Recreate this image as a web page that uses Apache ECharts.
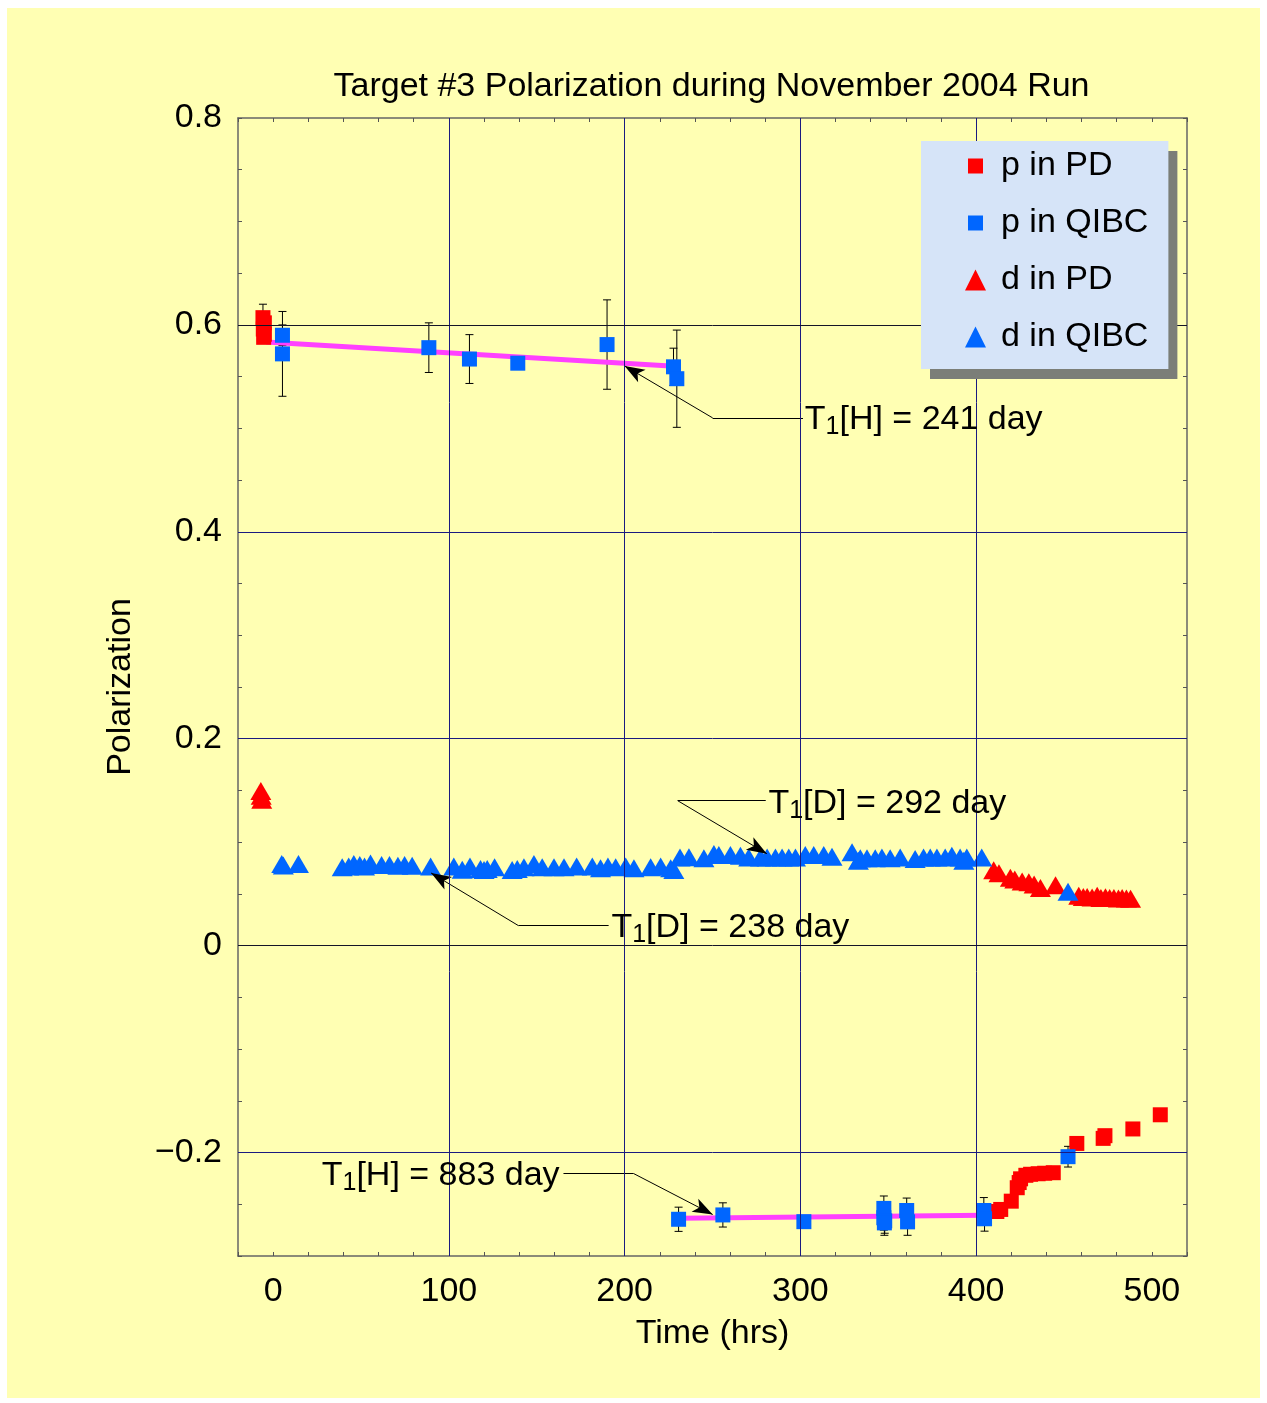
<!DOCTYPE html>
<html><head><meta charset="utf-8">
<script src="https://cdn.jsdelivr.net/npm/echarts@6/dist/echarts.min.js"></script>
<style>html,body{margin:0;padding:0;background:#fff;width:1267px;height:1403px;overflow:hidden}#c{position:absolute;left:7px;top:8px;width:1253px;height:1390px}</style>
</head><body><div id="c"></div>
<script>
// ---- data ----
const xTickValues = [0, 100, 200, 300, 400, 500];
const yTickValues = [-0.2, 0, 0.2, 0.4, 0.6, 0.8];
const yTickLabels = ['\u22120.2', '0', '0.2', '0.4', '0.6', '0.8'];
const xGridLines = [100, 200, 300, 400];
const yGridLinesNavy = [0.4, 0.2, -0.2];
const yGridLinesDark = [0.6, 0];

// [time (hrs), polarization, error]
const pInPD = [
  [-5.8, 0.607, 0.013], [-5.0, 0.602, 0], [-5.6, 0.596, 0], [-5.0, 0.591, 0], [-5.4, 0.588, 0],
  [411.8, -0.257, 0], [414, -0.255, 0], [420, -0.247, 0], [423.4, -0.234, 0], [424.5, -0.229, 0],
  [425.3, -0.2254, 0], [428.3, -0.222, 0], [431, -0.221, 0], [435.3, -0.2205, 0], [439, -0.220, 0],
  [443.9, -0.2195, 0], [457.3, -0.1912, 0], [472.3, -0.1863, 0], [473.3, -0.1837, 0],
  [489.2, -0.1772, 0], [504.8, -0.1635, 0]
];
const pInQIBC = [
  [5.3, 0.590, 0.010], [5.3, 0.572, 0.041], [88.6, 0.578, 0.024], [111.7, 0.567, 0.0236],
  [139.2, 0.563, 0], [190, 0.581, 0.0432], [227.8, 0.5595, 0.018], [229.7, 0.548, 0.047],
  [230.7, -0.2645, 0.0117], [255.9, -0.2603, 0.0117], [302, -0.2668, 0],
  [347.5, -0.254, 0.012], [347.5, -0.263, 0.012], [348, -0.266, 0.012], [347.8, -0.268, 0.012],
  [360.5, -0.256, 0.012], [361, -0.267, 0.013], [404.4, -0.256, 0.0125], [404.8, -0.264, 0.012],
  [452.3, -0.204, 0.01]
];
const dInPD = [
  [-7, 0.1495, 0], [-6.8, 0.145, 0], [-6.5, 0.141, 0],
  [410, 0.0728, 0], [413, 0.070, 0], [419.5, 0.0657, 0], [422, 0.064, 0], [426.2, 0.0621, 0],
  [430, 0.0612, 0], [433, 0.059, 0], [436.6, 0.0557, 0], [445.2, 0.0583, 0], [458.4, 0.0483, 0],
  [461, 0.047, 0], [463.2, 0.047, 0], [466, 0.0465, 0], [468.9, 0.0483, 0], [471, 0.046, 0],
  [473.6, 0.0467, 0], [476, 0.046, 0], [478.4, 0.046, 0], [481, 0.0455, 0], [483.1, 0.046, 0],
  [485.5, 0.0455, 0], [487.9, 0.0454, 0]
];
const dInQIBC = [
  [4.9, 0.079, 0], [5.8, 0.0775, 0], [14.4, 0.079, 0],
  [39.3, 0.0757, 0], [43, 0.0765, 0], [45.9, 0.0789, 0], [49.3, 0.0779, 0], [52, 0.0766, 0],
  [55.4, 0.0795, 0], [61.7, 0.0779, 0], [66.2, 0.0779, 0], [71, 0.0773, 0], [74.8, 0.0779, 0],
  [79.1, 0.0773, 0], [89.6, 0.0766, 0],
  [102.8, 0.0766, 0], [107.6, 0.0734, 0], [112, 0.0766, 0], [118, 0.0741, 0], [120, 0.073, 0],
  [121.8, 0.0741, 0], [126, 0.0757, 0],
  [136, 0.073, 0], [138.9, 0.0741, 0], [142.7, 0.0757, 0], [148.4, 0.0789, 0], [153.1, 0.0757, 0],
  [159.8, 0.0757, 0], [165.5, 0.0757, 0], [172.7, 0.0766, 0], [181.6, 0.0766, 0], [186.3, 0.0747, 0],
  [190.5, 0.0766, 0], [194.9, 0.0757, 0], [200.6, 0.0766, 0], [205.3, 0.0747, 0], [214.8, 0.0757, 0],
  [220.5, 0.0766, 0], [226.2, 0.0747, 0], [228, 0.073, 0],
  [231.5, 0.0853, 0], [236.6, 0.0855, 0], [245.1, 0.0844, 0], [250.8, 0.0886, 0], [253.6, 0.0876, 0],
  [260.2, 0.0876, 0], [265.9, 0.087, 0], [270.6, 0.0853, 0], [277.3, 0.0853, 0], [281.1, 0.0853, 0],
  [285.8, 0.0853, 0], [289.6, 0.0853, 0], [293.4, 0.0853, 0], [297.2, 0.0853, 0], [302.8, 0.0876, 0],
  [307.6, 0.0876, 0], [313.3, 0.0876, 0], [318, 0.086, 0], [329.4, 0.0902, 0], [333, 0.082, 0],
  [334.1, 0.0844, 0], [337.9, 0.0844, 0], [342.6, 0.0844, 0], [346.4, 0.0853, 0], [351.1, 0.0844, 0],
  [356.8, 0.0853, 0], [365.3, 0.0837, 0], [370.1, 0.0853, 0], [373.9, 0.0853, 0], [377.7, 0.0853, 0],
  [382.4, 0.0853, 0], [386.2, 0.087, 0], [390.9, 0.0853, 0], [393, 0.082, 0], [394.7, 0.0853, 0],
  [403.2, 0.0853, 0],
  [452.3, 0.052, 0]
];
// T1 fit lines
const fitH1 = [[-4, 0.5835], [226, 0.5603]];
const fitH2 = [[231, -0.2635], [405, -0.2605]];

// annotations: label anchor, elbow, horizontal end, arrow tip
const noteTexts = [
  { nuc: 'H', val: '241', side: 'right', anchor: [302.5, 0.5085], elbow: [250.1, 0.5101], hEnd: [301.5, 0.5101], tip: [200.0, 0.5604] },
  { nuc: 'D', val: '292', side: 'right', anchor: [281.8, 0.1375], elbow: [230.2, 0.1401], hEnd: [280.3, 0.1401], tip: [280.9, 0.0889] },
  { nuc: 'D', val: '238', side: 'right', anchor: [192.5, 0.0177], elbow: [139.6, 0.0193], hEnd: [190.9, 0.0193], tip: [89.9, 0.0702] },
  { nuc: 'H', val: '883', side: 'left',  anchor: [163.0, -0.2219], elbow: [205.1, -0.2203], hEnd: [165.2, -0.2203], tip: [250.1, -0.2599] }
];

// ---- chart ----
const FONT = 'Liberation Sans, Arial, Helvetica, sans-serif';
const RED = '#ff0000', BLUE = '#0066ff';
const squareIcon = 'path://M0,0L0,0M3,3L18,3L18,18L3,18ZM21,21L21,21';

function yFmt(v) {
  for (let i = 0; i < yTickValues.length; i++) if (Math.abs(yTickValues[i] - v) < 1e-6) return yTickLabels[i];
  return '';
}
function xFmt(v) {
  for (let i = 0; i < xTickValues.length; i++) if (Math.abs(xTickValues[i] - v) < 1e-6) return String(xTickValues[i]);
  return '';
}

const axisLine = { show: true, onZero: false, lineStyle: { color: '#666', width: 1.5 } };
const axisTick = { show: true, inside: true, length: 4, lineStyle: { color: '#555', width: 1 } };

function errSeries(data) {
  return {
    type: 'custom', silent: true, z: 2,
    data: data.filter(d => d[2] > 0),
    renderItem: function (params, api) {
      const x = api.value(0), y = api.value(1), e = api.value(2);
      const top = api.coord([x, y + e]), bot = api.coord([x, y - e]);
      const w = 4;
      const st = { stroke: '#000', lineWidth: 1 };
      return { type: 'group', children: [
        { type: 'line', shape: { x1: top[0], y1: top[1], x2: bot[0], y2: bot[1] }, style: st },
        { type: 'line', shape: { x1: top[0] - w, y1: top[1], x2: top[0] + w, y2: top[1] }, style: st },
        { type: 'line', shape: { x1: bot[0] - w, y1: bot[1], x2: bot[0] + w, y2: bot[1] }, style: st }
      ] };
    },
    encode: { x: 0, y: 1 }
  };
}

function noteLabel(n) {
  return '{a|T}{b|1}{a|[' + n.nuc + '] = ' + n.val + ' day}';
}

function gridSeries(lines, color) {
  return { type: 'line', data: [], silent: true, z: 5,
    markLine: {
      silent: true, animation: false, symbol: ['none', 'none'],
      label: { show: false },
      lineStyle: { color: color, width: 1, type: 'solid' },
      emphasis: { disabled: true },
      data: lines
    }
  };
}

const chart = echarts.init(document.getElementById('c'), null, { renderer: 'canvas' });
const leaderLines = [];
noteTexts.forEach(n => {
  leaderLines.push([{ coord: n.elbow, symbol: 'none' }, { coord: n.hEnd, symbol: 'none' }]);
  leaderLines.push([{ coord: n.elbow, symbol: 'none' }, { coord: n.tip, symbol: 'arrow', symbolSize: [11, 20] }]);
});

chart.setOption({
  animation: false,
  backgroundColor: '#ffffb3',
  textStyle: { fontFamily: FONT },
  title: {
    text: 'Target #3 Polarization during November 2004 Run',
    left: 699.5, top: 57, textAlign: 'center',
    textStyle: { fontSize: 34, fontWeight: 'normal', color: '#000', fontFamily: FONT, lineHeight: 34 }
  },
  grid: { left: 231, top: 110, width: 949, height: 1138, containLabel: false },
  legend: {
    left: 914, top: 133, orient: 'vertical',
    padding: [8, 20, 15, 44],
    itemWidth: 21, itemHeight: 21, itemGap: 23,
    backgroundColor: '#d6e4f8',
    shadowColor: '#7b7e78', shadowOffsetX: 9, shadowOffsetY: 10, shadowBlur: 0,
    borderWidth: 0, selectedMode: false, z: 10,
    textStyle: { fontSize: 34, fontFamily: FONT, color: '#000', lineHeight: 34, padding: [0, 0, 0, 10] },
    data: [
      { name: 'p in PD', icon: squareIcon, itemStyle: { color: RED } },
      { name: 'p in QIBC', icon: squareIcon, itemStyle: { color: BLUE } },
      { name: 'd in PD', icon: 'triangle', itemStyle: { color: RED } },
      { name: 'd in QIBC', icon: 'triangle', itemStyle: { color: BLUE } }
    ]
  },
  xAxis: [{
    type: 'value', min: -20, max: 520, interval: 20, position: 'bottom',
    name: 'Time (hrs)', nameLocation: 'middle', nameGap: 61,
    nameTextStyle: { fontSize: 34, color: '#000', fontFamily: FONT, lineHeight: 34 },
    axisLine: axisLine, axisTick: axisTick, splitLine: { show: false },
    axisLabel: { formatter: xFmt, fontSize: 34, color: '#000', fontFamily: FONT, margin: 19, lineHeight: 34 }
  }, {
    type: 'value', min: -20, max: 520, interval: 20, position: 'top',
    axisLine: axisLine, axisTick: axisTick, splitLine: { show: false }, axisLabel: { show: false }
  }],
  yAxis: [{
    type: 'value', min: -0.3, max: 0.8, interval: 0.05, position: 'left',
    name: 'Polarization', nameLocation: 'middle', nameGap: 100,
    nameTextStyle: { fontSize: 34, color: '#000', fontFamily: FONT, lineHeight: 34 },
    axisLine: axisLine, axisTick: axisTick, splitLine: { show: false },
    axisLabel: { formatter: yFmt, fontSize: 34, color: '#000', fontFamily: FONT, margin: 16, padding: [11, 0, 0, 0] }
  }, {
    type: 'value', min: -0.3, max: 0.8, interval: 0.05, position: 'right',
    axisLine: axisLine, axisTick: axisTick, splitLine: { show: false }, axisLabel: { show: false }
  }],
  series: [
    errSeries(pInPD), errSeries(pInQIBC),
    { type: 'line', data: fitH1, showSymbol: false, symbol: 'none', silent: true, z: 2,
      lineStyle: { color: '#ff40ff', width: 5 } },
    { type: 'line', data: fitH2, showSymbol: false, symbol: 'none', silent: true, z: 2,
      lineStyle: { color: '#ff40ff', width: 5 } },
    { name: 'p in PD', type: 'scatter', data: pInPD, symbol: 'rect', symbolSize: 15, z: 3,
      itemStyle: { color: RED, opacity: 1 }, encode: { x: 0, y: 1 } },
    { name: 'p in QIBC', type: 'scatter', data: pInQIBC, symbol: 'rect', symbolSize: 15, z: 3,
      itemStyle: { color: BLUE, opacity: 1 }, encode: { x: 0, y: 1 } },
    { name: 'd in PD', type: 'scatter', data: dInPD, symbol: 'triangle', symbolSize: [21, 18], z: 3,
      itemStyle: { color: RED, opacity: 1 }, encode: { x: 0, y: 1 } },
    { name: 'd in QIBC', type: 'scatter', data: dInQIBC, symbol: 'triangle', symbolSize: [21, 18], z: 3,
      itemStyle: { color: BLUE, opacity: 1 }, encode: { x: 0, y: 1 } },
    { type: 'scatter', silent: true, z: 6, symbolSize: 0,
      itemStyle: { opacity: 1 },
      data: noteTexts.map(n => ({
        value: n.anchor,
        label: { show: true, position: n.side, distance: 0, formatter: noteLabel(n),
          color: '#000', opacity: 1, textBorderWidth: 0,
          rich: {
            a: { fontSize: 34, fontFamily: FONT, color: '#000', lineHeight: 40, verticalAlign: 'middle', textBorderWidth: 0 },
            b: { fontSize: 25, fontFamily: FONT, color: '#000', lineHeight: 25, verticalAlign: 'bottom', textBorderWidth: 0 }
          } }
      })),
      markLine: {
        silent: true, animation: false, symbol: ['none', 'none'],
        label: { show: false },
        lineStyle: { color: '#000', width: 1, type: 'solid' },
        emphasis: { disabled: true },
        data: leaderLines
      }
    },
    gridSeries(xGridLines.map(v => ({ xAxis: v })).concat(yGridLinesNavy.map(v => ({ yAxis: v }))), '#1a1a80'),
    gridSeries(yGridLinesDark.map(v => ({ yAxis: v })), '#141428')
  ]
});
</script></body></html>
